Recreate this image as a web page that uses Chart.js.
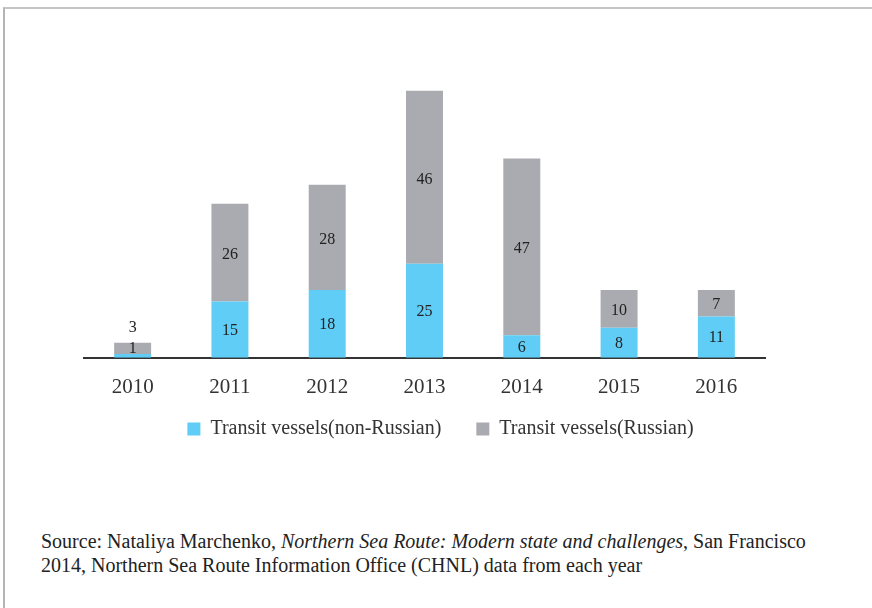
<!DOCTYPE html>
<html>
<head>
<meta charset="utf-8">
<script src="https://cdn.jsdelivr.net/npm/chart.js@4.4.1/dist/chart.umd.min.js"></script>
<style>
  body { margin: 0; background: #fff; }
  #wrap { position: relative; width: 872px; height: 608px; overflow: hidden; background: #fff; }
  #frame { position: absolute; left: 3px; top: 7px; width: 900px; height: 700px;
           border-top: 2px solid #c4c4c4; border-left: 2px solid #b4b4b4; }
  #chart-box { position: absolute; left: 0; top: 0; width: 872px; height: 482px; }
  #source { position: absolute; left: 41px; top: 529px; font: 20px "Liberation Serif", serif;
            line-height: 24px; color: #222; white-space: nowrap; }
</style>
</head>
<body>
<div id="wrap">
  <div id="frame"></div>
  <div id="chart-box"><canvas id="chart"></canvas></div>
  <div id="source">
    Source: Nataliya Marchenko, <i>Northern Sea Route: Modern state and challenges</i>, San Francisco<br>
    2014, Northern Sea Route Information Office (CHNL) data from each year
  </div>
</div>
<script>
const years = ["2010", "2011", "2012", "2013", "2014", "2015", "2016"];
const nonRussian = [1, 15, 18, 25, 6, 8, 11];
const russian = [3, 26, 28, 46, 47, 10, 7];

const BLUE = "#5fcdf5";
const GREY = "#aaabb0";
const FONT = "'Liberation Serif', 'Times New Roman', serif";

// value labels inside each segment; tiny stacks get labels lifted up
const segmentLabels = {
  id: "segmentLabels",
  afterDatasetsDraw(chart) {
    const { ctx } = chart;
    ctx.save();
    ctx.font = `16px ${FONT}`;
    ctx.fillStyle = "#222";
    ctx.textAlign = "center";
    ctx.textBaseline = "middle";
    const low = chart.getDatasetMeta(0).data;
    const high = chart.getDatasetMeta(1).data;
    low.forEach((bar, i) => {
      const top = high[i];
      const small = bar.base - top.y < 24;
      const v0 = chart.data.datasets[0].data[i];
      const v1 = chart.data.datasets[1].data[i];
      if (small) {
        ctx.fillText(v0, bar.x, bar.base - 9);
        ctx.fillText(v1, top.x, top.y - 15);
      } else {
        ctx.fillText(v0, bar.x, (bar.y + bar.base) / 2 + 1);
        ctx.fillText(v1, top.x, (top.y + top.base) / 2 + 2);
      }
    });
    ctx.restore();
  },
};

// pull the legend up closer to the axis (its label padding also sets the item gap)
const legendShift = {
  id: "legendShift",
  afterLayout(chart) {
    const lg = chart.legend;
    lg.top -= 33;
    lg.bottom -= 33;
    lg.left += 16;
    lg.right += 16;
  },
};

new Chart(document.getElementById("chart"), {
  type: "bar",
  data: {
    labels: years,
    datasets: [
      { label: "Transit vessels(non-Russian)", data: nonRussian, backgroundColor: BLUE,
        barPercentage: 0.38, categoryPercentage: 1 },
      { label: "Transit vessels(Russian)", data: russian, backgroundColor: GREY,
        barPercentage: 0.38, categoryPercentage: 1 },
    ],
  },
  options: {
    responsive: true,
    maintainAspectRatio: false,
    animation: false,
    layout: { padding: { left: 84, right: 107, top: 57, bottom: 0 } },
    scales: {
      x: {
        stacked: true,
        grid: { display: false, drawTicks: false },
        border: { display: true, color: "#333", width: 2 },
        ticks: { color: "#333", padding: 17, font: { family: FONT, size: 21 } },
      },
      y: { stacked: true, display: false, min: 0, max: 80 },
    },
    plugins: {
      legend: {
        position: "bottom",
        labels: {
          color: "#333",
          boxWidth: 13,
          boxHeight: 13,
          padding: 35,
          font: { family: FONT, size: 20 },
        },
      },
      tooltip: { enabled: false },
    },
  },
  plugins: [segmentLabels, legendShift],
});
</script>
</body>
</html>
